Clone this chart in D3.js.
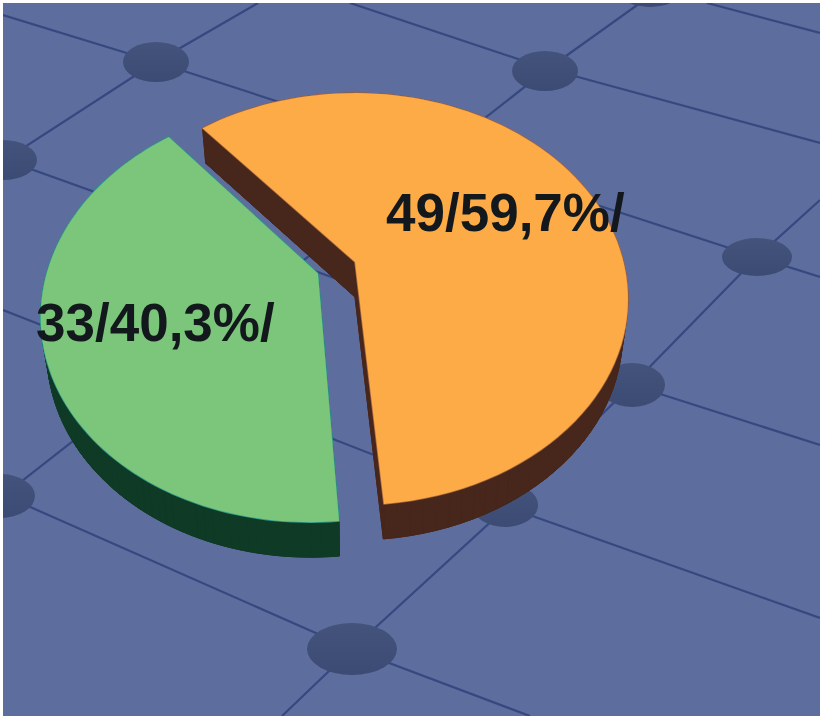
<!DOCTYPE html>
<html>
<head>
<meta charset="utf-8">
<title>Pie chart</title>
<script src="https://cdn.jsdelivr.net/npm/d3@7/dist/d3.min.js"></script>
<style>
  html, body { margin: 0; padding: 0; background: #fff; }
  svg { display: block; }
  text { font-family: "Liberation Sans", Arial, sans-serif; font-weight: bold; }
</style>
</head>
<body>
<svg id="chart" width="823" height="718"></svg>
<script>
// Slice values and the percentages printed beside them
const counts = [49, 33];
const percents = ["59,7", "40,3"];
const topColors = ["#fdab47", "#7bc67b"];
const rimColors = ["#a9683f", "#2f9a8c"];
const wallColors = ["#47261c", "#0f3a26"];
const explode = [0, 0.148];
const labelAnchors = [[386, 231], [36, 341]];

// Decorative floor: connecting lines and round pads
const floorLines = [
  [[3, 15], [156, 62], [757, 257], [820, 277]],
  [[350, 3], [545, 68], [820, 143]],
  [[707, 3], [820, 33]],
  [[3, 159], [632, 385], [820, 445]],
  [[3, 310], [507, 507], [820, 618]],
  [[3, 495], [352, 649], [530, 716]],
  [[258, 3], [156, 62], [3, 161]],
  [[640, 3], [545, 71], [3, 496]],
  [[820, 200], [757, 257], [632, 385], [507, 507], [352, 649], [282, 716]]
];
const floorPads = [
  [156, 62, 33, 20], [545, 71, 33, 20], [757, 257, 35, 19],
  [632, 385, 33, 22], [505, 505, 33, 22], [352, 649, 45, 26],
  [3, 160, 34, 20], [0, 496, 35, 22], [650, -8, 30, 15]
];

const svg = d3.select("#chart");
const defs = svg.append("defs");

const padGrad = defs.append("linearGradient").attr("id", "pad")
  .attr("x1", 0).attr("x2", 0).attr("y1", 0).attr("y2", 1);
padGrad.append("stop").attr("offset", 0).attr("stop-color", "#44537c");
padGrad.append("stop").attr("offset", 1).attr("stop-color", "#3c4b74");

defs.append("clipPath").attr("id", "floor-clip")
  .append("rect").attr("x", 3).attr("y", 3).attr("width", 817).attr("height", 713);

const floor = svg.append("g").attr("clip-path", "url(#floor-clip)");
floor.append("rect").attr("x", 3).attr("y", 3).attr("width", 817).attr("height", 713)
  .attr("fill", "#5d6d9e");

floor.selectAll("path.link").data(floorLines).join("path")
  .attr("class", "link")
  .attr("d", d3.line())
  .attr("fill", "none")
  .attr("stroke", "#374880")
  .attr("stroke-width", 2.2);

floor.selectAll("ellipse").data(floorPads).join("ellipse")
  .attr("cx", d => d[0]).attr("cy", d => d[1])
  .attr("rx", d => d[2]).attr("ry", d => d[3])
  .attr("fill", "url(#pad)");

// Perspective projection of the unit disc lying on the floor
const cx = 355, cy = 262, ax = 268.5, ay = 199.3, persp = 0.18;
const depth = 35, lowerScale = 0.98;
const project = ([x, y]) => {
  const w = 1 - persp * y;
  return [cx + ax * x / w, cy + ay * y / w];
};

const pie = d3.pie().sort(null)
  .startAngle(-40.2 * Math.PI / 180)
  .endAngle((360 - 40.2) * Math.PI / 180);
const arcs = pie(counts);

// Outline of a slice as projected points: apex, then samples along the rim
function outline(a, i) {
  const mid = (a.startAngle + a.endAngle) / 2;
  const ox = Math.sin(mid) * explode[i];
  const oy = -Math.cos(mid) * explode[i];
  const n = 90;
  const t = d3.scaleLinear().domain([0, n]).range([a.startAngle, a.endAngle]);
  const rim = d3.range(n + 1).map(k =>
    project([ox + Math.sin(t(k)), oy - Math.cos(t(k))]));
  return { apex: project([ox, oy]), rim };
}

const line = d3.line();
// The lower face sits further from the eye, so it draws slightly narrower
const lower = p => [cx + (p[0] - cx) * lowerScale, p[1] + depth];
const quad = (p, q) => line([p, q, lower(q), lower(p)]) + "Z";

const slices = svg.append("g");
arcs.forEach((a, i) => {
  const { apex, rim } = outline(a, i);
  const pts = [apex, ...rim];
  const g = slices.append("g");

  // Extruded wall: the lower face, every rim segment and both straight edges
  const wall = g.append("g")
    .attr("fill", wallColors[i])
    .attr("stroke", wallColors[i])
    .attr("stroke-width", 1)
    .attr("stroke-linejoin", "round");
  wall.append("path").attr("d", line(pts.map(lower)) + "Z");
  d3.pairs([...pts, apex]).forEach(([p, q]) => wall.append("path").attr("d", quad(p, q)));

  // Upper face
  g.append("path")
    .attr("d", line(pts) + "Z")
    .attr("fill", topColors[i])
    .attr("stroke", rimColors[i])
    .attr("stroke-width", 1.6)
    .attr("stroke-linejoin", "round")
    .attr("paint-order", "stroke");
});

svg.selectAll("text.value").data(counts).join("text")
  .attr("class", "value")
  .attr("x", (d, i) => labelAnchors[i][0])
  .attr("y", (d, i) => labelAnchors[i][1])
  .attr("font-size", 53)
  .attr("fill", "#13181c")
  .text((d, i) => `${d}/${percents[i]}%/`);
</script>
</body>
</html>
